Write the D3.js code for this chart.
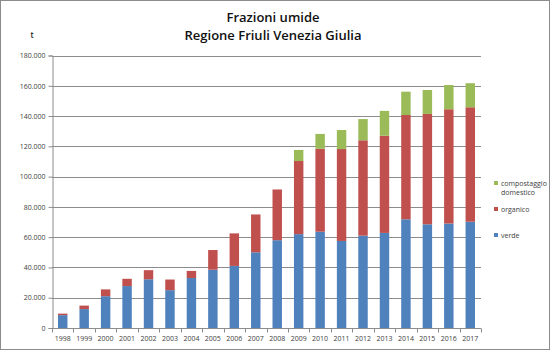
<!DOCTYPE html>
<html><head><meta charset="utf-8">
<script src="https://cdn.jsdelivr.net/npm/d3@7"></script>
<style>body{margin:0;background:#fff}svg{display:block}</style>
</head><body><svg id="c" width="550" height="350"></svg>
<script>
const years = ["1998","1999","2000","2001","2002","2003","2004","2005","2006","2007","2008","2009","2010","2011","2012","2013","2014","2015","2016","2017"];
const verde = [8500,12500,21000,27700,32200,25000,33000,38500,41000,50000,58000,62000,63600,57500,61000,62800,71800,68500,69000,70200];
const organico = [1000,2300,4500,4800,6000,7000,4700,13000,21500,25000,33500,48300,54800,60700,63000,64200,68900,72900,75500,75600];
const compostaggio = [0,0,0,0,0,0,0,0,0,0,0,7300,9800,12600,14000,16400,15400,15800,16000,15900];
const seriesNames = ["verde","organico","compostaggio domestico"];
const colors = ["#4F81BD","#C0504D","#9BBB59"];
const yTicks = [0,20000,40000,60000,80000,100000,120000,140000,160000,180000];

const svg = d3.select("#c");
const font = "'Open Sans', 'Liberation Sans', sans-serif";
svg.append("rect").attr("x",0.5).attr("y",0.5).attr("width",549).attr("height",349)
  .attr("fill","#fff").attr("stroke","#8c8c8c");

const L=52, R=481, T=55.5, B=328;
const x = d3.scaleBand().domain(years).range([L,R]).paddingInner(0.56).paddingOuter(0.28);
const y = d3.scaleLinear().domain([0,180000]).range([B,T]);

const fmt = v => v===0 ? "0" : d3.format(",")(v).replace(/,/g,".");

// gridlines
svg.append("g").selectAll("line").data(yTicks.filter(d=>d>0)).join("line")
  .attr("x1",L).attr("x2",R).attr("y1",d=>Math.round(y(d))+0.5).attr("y2",d=>Math.round(y(d))+0.5)
  .attr("stroke","#8c8c8c").attr("stroke-width",1);

// y axis
const ya = svg.append("g").attr("transform",`translate(${L+0.5},0)`)
  .call(d3.axisLeft(y).tickValues(yTicks).tickFormat(fmt).tickSize(4).tickPadding(3));
ya.select(".domain").attr("stroke","#8c8c8c");
ya.selectAll(".tick line").attr("stroke","#8c8c8c");
ya.selectAll("text").attr("font-family",font).attr("font-size",7).attr("fill","#404040");

// stacked data
const data = years.map((yr,i)=>({year:yr, verde:verde[i], organico:organico[i], "compostaggio domestico":compostaggio[i]}));
const stack = d3.stack().keys(seriesNames)(data);
svg.append("g").selectAll("g").data(stack).join("g").attr("fill",(d,i)=>colors[i])
  .selectAll("rect").data(d=>d).join("rect")
  .attr("x",d=>x(d.data.year)).attr("width",x.bandwidth())
  .attr("y",d=>y(d[1])).attr("height",d=>Math.max(0,y(d[0])-y(d[1])));

// x axis
const xa = svg.append("g").attr("transform",`translate(0,${B+0.5})`);
xa.append("line").attr("x1",L).attr("x2",R).attr("stroke","#8c8c8c");
const step = (R-L)/years.length;
xa.selectAll("line.tk").data(d3.range(years.length+1)).join("line").attr("class","tk")
  .attr("x1",i=>Math.round(L+i*step)+0.5).attr("x2",i=>Math.round(L+i*step)+0.5)
  .attr("y1",0).attr("y2",4).attr("stroke","#8c8c8c");
xa.selectAll("text").data(years).join("text")
  .attr("x",d=>x(d)+x.bandwidth()/2).attr("y",12).attr("text-anchor","middle")
  .attr("font-family",font).attr("font-size",7).attr("fill","#404040").text(d=>d);

// titles
svg.append("text").attr("x",273).attr("y",22).attr("text-anchor","middle")
  .attr("font-family",font).attr("font-weight",600).attr("font-size",13).attr("fill","#111").text("Frazioni umide");
svg.append("text").attr("x",273).attr("y",40).attr("text-anchor","middle")
  .attr("font-family",font).attr("font-weight",600).attr("font-size",13).attr("fill","#111").text("Regione Friuli Venezia Giulia");
svg.append("text").attr("x",32).attr("y",38).attr("text-anchor","middle")
  .attr("font-family",font).attr("font-weight",600).attr("font-size",8).attr("fill","#222").text("t");

// legend
const leg = [
  {c:colors[2], lines:["compostaggio","domestico"], y:183},
  {c:colors[1], lines:["organico"], y:209},
  {c:colors[0], lines:["verde"], y:235}
];
const lg = svg.append("g");
leg.forEach(l=>{
  lg.append("rect").attr("x",494).attr("y",l.y-2).attr("width",4).attr("height",4).attr("fill",l.c);
  l.lines.forEach((t,j)=>{
    lg.append("text").attr("x",501).attr("y",l.y+2.5+j*9).attr("font-family",font)
      .attr("font-size",7).attr("fill","#404040").text(t);
  });
});
</script></body></html>
